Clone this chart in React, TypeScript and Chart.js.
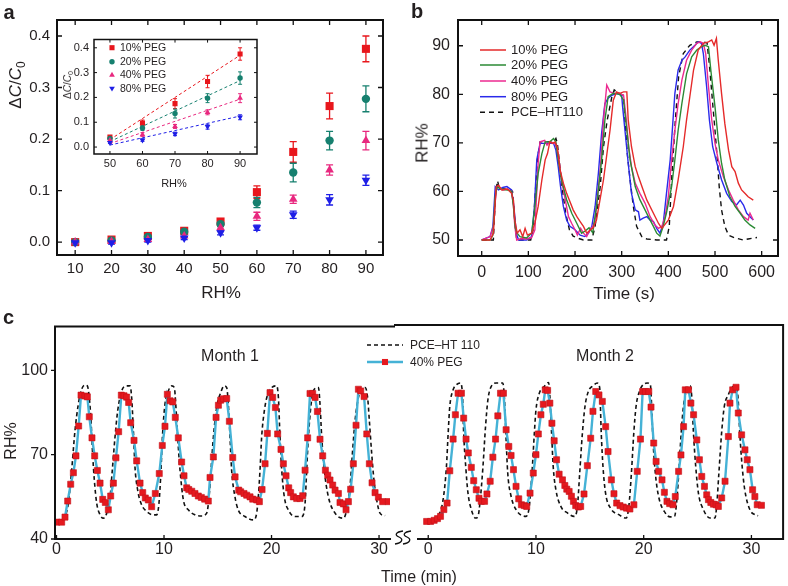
import React, { useEffect, useRef } from 'react';
import { Chart, registerables } from 'chart.js';

Chart.register(...registerables);

const FONT = '"Liberation Sans", Arial, Helvetica, sans-serif';
const INK = '#231f20';

// ---------------- Panel a ----------------
const rhLevels = [10, 20, 30, 40, 50, 60, 70, 80, 90];
const aTicksY = [0, 0.1, 0.2, 0.3, 0.4];
const peg10 = [0.0, 0.005, 0.012, 0.022, 0.04, 0.097, 0.175, 0.264, 0.375];
const peg10Err = [0.004, 0.003, 0.003, 0.004, 0.005, 0.012, 0.02, 0.025, 0.025];
const peg20 = [0.0, 0.003, 0.01, 0.02, 0.035, 0.077, 0.135, 0.197, 0.278];
const peg20Err = [0.003, 0.003, 0.003, 0.004, 0.005, 0.01, 0.018, 0.018, 0.025];
const peg40 = [0.0, 0.001, 0.005, 0.012, 0.028, 0.05, 0.083, 0.14, 0.197];
const peg40Err = [0.003, 0.003, 0.003, 0.003, 0.004, 0.008, 0.008, 0.01, 0.018];
const peg80 = [-0.001, -0.001, 0.003, 0.008, 0.018, 0.028, 0.053, 0.082, 0.12];
const peg80Err = [0.003, 0.003, 0.003, 0.003, 0.004, 0.005, 0.007, 0.01, 0.01];
const insetTicksX = [50, 60, 70, 80, 90];
const fitX = [50, 90];
const fit10 = [0.03, 0.37];
const fit20 = [0.022, 0.268];
const fit40 = [0.014, 0.193];
const fit80 = [0.008, 0.125];
const pegNames = ['10% PEG', '20% PEG', '40% PEG', '80% PEG'];

// ---------------- Panel b ----------------
const bTicksX = [0, 100, 200, 300, 400, 500, 600];
const bTicksY = [50, 60, 70, 80, 90];
const bTrace10: [number, number][] = [
  [0, 50], [18, 50], [25, 51.4], [31, 61], [36, 61.3], [43, 60.3], [55, 60.5], [64, 59.6], [68, 58.2], [71, 54.1],
  [76, 51.4], [82, 52.1], [88, 50.7], [93, 52.4], [98, 51], [107, 51.4], [114, 53.5], [121, 56.9], [129, 62.4], [136, 66.5],
  [141, 67.8], [146, 70.2], [152, 69.9], [157, 70.2], [162, 69.2], [168, 64.4], [175, 61.7], [182, 59.6], [189, 57.9], [196, 56.2],
  [204, 54.8], [211, 53.8], [218, 52.8], [225, 51.4], [232, 52], [239, 52.5], [246, 54.1], [253, 58], [261, 62.4], [268, 67.5],
  [275, 72.6], [282, 78.8], [289, 80.5], [296, 80.2], [304, 80.5], [311, 80.5], [314, 74.7], [321, 69.2], [329, 65.1], [336, 63],
  [346, 60.3], [354, 58.2], [368, 55.5], [379, 53.4], [386, 52.4], [400, 54.1], [411, 56.9], [421, 62.4], [432, 69.2], [439, 74.7],
  [446, 79.5], [454, 85], [464, 89.1], [475, 90.5], [486, 90.8], [493, 91.2], [498, 90.1], [503, 91.5], [507, 87], [514, 80.2],
  [521, 74], [529, 68.5], [536, 65.1], [543, 64.1], [550, 61.7], [557, 60.3], [564, 59.6], [571, 58.9], [582, 58.2],
];
const bTrace20: [number, number][] = [
  [0, 50], [18, 50], [24, 51], [29, 59], [33, 61], [40, 60.5], [55, 60.3], [64, 60], [68, 57], [72, 52.5],
  [76, 51.4], [82, 50.7], [96, 50.4], [107, 51.4], [114, 56.9], [121, 63.7], [129, 67.8], [136, 70.2], [146, 70.2], [154, 70.9],
  [159, 70.2], [164, 66.5], [171, 62.4], [182, 58.3], [193, 55.5], [204, 53.4], [214, 51.4], [221, 51.8], [230, 52.5], [238, 51.5],
  [246, 56.9], [257, 66.5], [264, 74.7], [271, 79.5], [282, 80.2], [296, 80], [304, 78.8], [311, 72.6], [318, 66.5], [329, 61],
  [339, 58.3], [350, 56.2], [361, 54.1], [368, 52.8], [375, 51.4], [382, 50.8], [389, 52.8], [396, 55.6], [407, 61], [414, 66.5],
  [421, 72.6], [429, 78.1], [439, 84.2], [450, 87.7], [461, 89.1], [471, 89.8], [479, 90.1], [486, 89.8], [491, 85], [500, 77.4],
  [507, 70.6], [514, 65.8], [521, 62.4], [532, 58.9], [543, 56.9], [554, 55.5], [564, 54.1], [575, 53.1], [586, 52.4],
];
const bTrace40: [number, number][] = [
  [0, 50], [18, 50.7], [25, 52.8], [31, 60.3], [36, 61], [45, 60.3], [55, 60.5], [64, 60], [68, 57], [71, 52.8],
  [75, 50], [85, 50.3], [96, 50.2], [107, 50.5], [114, 52.1], [121, 65.8], [125, 70.2], [135, 70.5], [140, 69.5], [146, 70.2],
  [157, 69.9], [164, 67.8], [171, 62.4], [179, 58.3], [186, 54.8], [193, 53.4], [200, 52.1], [205, 51], [212, 52.4], [218, 51.4],
  [225, 50.7], [232, 52.1], [238, 52.8], [243, 54.1], [254, 64.4], [261, 74.7], [268, 81.9], [275, 80.5], [284, 80.2], [296, 80.2],
  [304, 79.8], [310, 74.7], [315, 69.2], [321, 65.1], [329, 61.7], [339, 59.6], [350, 57.6], [361, 54.8], [371, 53.1], [379, 52.4],
  [386, 52.8], [393, 54.8], [400, 59], [407, 66.5], [414, 72.6], [421, 78.1], [429, 82.9], [439, 87], [450, 89.1], [461, 90.5],
  [468, 90.8], [475, 90.5], [480, 88.4], [486, 81.6], [493, 74.7], [500, 69.9], [507, 66.5], [518, 63], [529, 60.3], [539, 58.2],
  [550, 56.2], [561, 54.8], [571, 54.1], [575, 55.5], [582, 54.1],
];
const bTrace80: [number, number][] = [
  [0, 50], [18, 50.7], [24, 52.8], [29, 61], [36, 60.3], [45, 60.8], [54, 61], [64, 60.3], [69, 56.9], [74, 51.4],
  [79, 50], [96, 50], [107, 50.7], [113, 56.9], [118, 66.5], [125, 69.9], [139, 69.9], [154, 69.9], [159, 68.5], [164, 65.1],
  [169, 61], [175, 56.9], [182, 54.1], [189, 52.8], [200, 52.1], [211, 51], [221, 50.7], [229, 51.4], [236, 52.8], [243, 56.9],
  [250, 63.7], [257, 72], [264, 78.1], [271, 79.2], [279, 79.8], [289, 80.2], [300, 79.8], [302, 77.4], [307, 72.6], [314, 65.8],
  [321, 59.6], [329, 56.2], [336, 55.8], [339, 54.1], [346, 54.5], [354, 54.8], [361, 54.1], [368, 53.8], [375, 52.4], [382, 51.4],
  [389, 53.4], [396, 59.6], [404, 66.5], [409, 73.3], [414, 80.2], [421, 85], [429, 87], [436, 87.7], [446, 89.1], [457, 90.1],
  [464, 90.8], [471, 90.5], [475, 88.4], [482, 81.6], [488, 74.7], [495, 69.2], [504, 65.8], [514, 62.4], [525, 59.6], [536, 57.9],
  [546, 57.2], [554, 58.2], [561, 57.2], [568, 55.5], [575, 54.8], [582, 54.1],
];
const bTraceRef: [number, number][] = [
  [0, 50], [25, 50], [30, 60], [34, 62.2], [38, 60.5], [50, 60.5], [62, 60.3], [66, 60], [70, 55], [75, 50],
  [90, 50], [105, 50], [110, 52], [115, 60], [120, 67], [125, 70.2], [140, 70.2], [155, 70.3], [159, 70.9], [162, 70],
  [166, 66.5], [172, 61], [180, 55.5], [188, 52.1], [196, 50.8], [205, 50.4], [218, 50], [236, 50], [243, 52.8], [254, 61],
  [261, 69.2], [269, 74.7], [279, 79.5], [284, 80.9], [296, 80.1], [304, 79.8], [307, 74.7], [312, 67.8], [318, 62.4], [325, 56.9],
  [332, 52.8], [343, 50.7], [354, 50.2], [375, 50], [396, 50], [402, 52.8], [407, 62.4], [415, 74.7], [422, 83.6], [432, 88.4],
  [446, 90.1], [461, 90.8], [475, 90.8], [483, 90.6], [489, 85], [495, 78.1], [500, 72.6], [505, 66.5], [509, 61], [514, 56.2],
  [521, 52.8], [529, 51], [543, 50.4], [561, 50], [571, 50.2], [582, 50.4], [590, 50.5],
];

// ---------------- Panel c ----------------
const cTicksX = [0, 10, 20, 30];
const cTicksY = [40, 70, 100];
const month1Peg40: [number, number][] = [
  [0.02, 46.0], [0.48, 46.0], [0.79, 47.8], [1.04, 53.5], [1.32, 59.5], [1.57, 63.6], [1.81, 69.6], [2.06, 80.2], [2.28, 91.2], [2.65, 90.9],
  [2.87, 90.6], [3.05, 83.5], [3.3, 76.0], [3.55, 69.6], [3.8, 64.4], [4.05, 59.9], [4.3, 54.1], [4.54, 53.0], [4.82, 50.4], [5.04, 55.3],
  [5.29, 59.9], [5.53, 68.9], [5.78, 78.2], [6.03, 91.2], [6.28, 91.0], [6.52, 90.5], [6.71, 88.6], [6.9, 81.4], [7.21, 75.1], [7.46, 67.8],
  [7.77, 59.9], [8.02, 56.5], [8.26, 54.6], [8.54, 53.9], [8.85, 51.5], [9.19, 56.2], [9.56, 63.3], [9.84, 73.3], [10.09, 80.1], [10.31, 91.5],
  [10.56, 89.2], [10.81, 88.8], [11.05, 83.3], [11.33, 76.0], [11.64, 67.4], [11.86, 62.5], [12.11, 58.2], [12.3, 57.6], [12.58, 57.0], [12.88, 56.2],
  [13.19, 55.3], [13.47, 54.8], [13.78, 54.2], [14.12, 53.5], [14.28, 61.9], [14.59, 69.2], [14.84, 83.3], [15.06, 87.6], [15.27, 89.4], [15.52, 89.9],
  [15.83, 90.0], [16.08, 81.9], [16.39, 69.0], [16.61, 62.1], [16.95, 57.4], [17.13, 56.8], [17.44, 56.2], [17.69, 55.6], [18.0, 55.0], [18.25, 54.2],
  [18.62, 53.9], [18.87, 53.3], [19.12, 57.6], [19.4, 66.8], [19.61, 77.6], [19.86, 92.1], [20.11, 90.4], [20.36, 86.8], [20.57, 77.4], [20.88, 71.9],
  [21.1, 66.8], [21.35, 62.5], [21.6, 58.2], [21.78, 56.5], [22.03, 55.0], [22.34, 54.4], [22.65, 54.4], [22.9, 55.4], [23.12, 64.5], [23.36, 76.0],
  [23.58, 91.8], [23.83, 91.8], [24.05, 90.4], [24.27, 85.4], [24.51, 75.5], [24.76, 69.6], [25.01, 64.5], [25.23, 62.7], [25.44, 61.0], [25.69, 59.2],
  [25.91, 57.4], [26.22, 56.2], [26.37, 53.0], [26.68, 52.5], [26.93, 50.4], [27.15, 53.3], [27.36, 57.7], [27.61, 66.8], [27.86, 80.5], [28.08, 93.3],
  [28.3, 92.7], [28.61, 90.7], [28.86, 77.4], [29.1, 66.8], [29.35, 60.0], [29.63, 56.5], [29.94, 54.9], [30.34, 53.3], [30.87, 53.3],
];
const month1Ref: [number, number][] = [
  [0.6, 46.8], [0.79, 48.0], [1.1, 52.7], [1.41, 64.5], [1.72, 78.6], [2.03, 88.0], [2.34, 93.3], [2.65, 94.8], [2.87, 94.5], [3.05, 90.3],
  [3.21, 82.1], [3.36, 70.3], [3.52, 60.9], [3.74, 52.7], [4.05, 48.6], [4.36, 47.4], [4.67, 49.2], [4.98, 55.0], [5.19, 64.5], [5.44, 76.2],
  [5.69, 85.6], [6.06, 92.7], [6.53, 94.5], [6.84, 94.5], [6.99, 90.3], [7.15, 78.6], [7.3, 65.6], [7.55, 57.4], [7.86, 52.7], [8.39, 49.8],
  [9.01, 48.6], [9.32, 48.6], [9.53, 52.7], [9.72, 64.5], [9.85, 76.2], [10.09, 88.0], [10.4, 92.7], [10.71, 94.5], [10.96, 93.9], [11.09, 88.0],
  [11.27, 76.2], [11.49, 64.5], [11.8, 53.9], [12.26, 50.4], [12.88, 48.6], [13.5, 48.2], [13.97, 49.2], [14.19, 55.0], [14.37, 64.5], [14.59, 76.2],
  [14.9, 86.8], [15.3, 92.4], [15.6, 94.5], [15.83, 93.9], [15.98, 88.0], [16.14, 76.2], [16.29, 64.5], [16.6, 55.0], [16.91, 50.3], [17.53, 48.0],
  [18.31, 46.8], [18.62, 49.2], [18.77, 55.0], [18.93, 64.5], [19.08, 76.2], [19.33, 85.6], [19.64, 91.5], [20.02, 93.9], [20.48, 94.5], [20.64, 90.3],
  [20.79, 76.2], [20.95, 64.5], [21.19, 55.0], [21.57, 50.3], [22.19, 48.0], [22.81, 48.0], [23.12, 52.7], [23.27, 64.5], [23.43, 76.2], [23.68, 88.0],
  [23.98, 93.3], [24.36, 93.9], [24.51, 88.0], [24.67, 76.2], [24.91, 64.5], [25.29, 55.0], [25.91, 49.2], [26.68, 47.4], [26.99, 50.3], [27.3, 58.6],
  [27.52, 70.3], [27.77, 82.1], [28.08, 90.3], [28.39, 93.3], [28.7, 93.9], [28.94, 90.3], [29.1, 82.1], [29.32, 70.3], [29.53, 60.9], [29.78, 53.9],
  [30.09, 49.2], [30.56, 48.3],
];
const month2Peg40: [number, number][] = [
  [-0.15, 46.2], [0.22, 46.2], [0.55, 46.6], [0.86, 47.2], [1.14, 48.0], [1.45, 50.4], [1.75, 52.7], [2.0, 64.1], [2.31, 75.3], [2.52, 83.9],
  [2.77, 91.5], [3.08, 91.5], [3.29, 82.7], [3.51, 75.3], [3.72, 70.4], [4.0, 65.3], [4.22, 60.6], [4.46, 57.4], [4.71, 54.4], [4.92, 53.3],
  [5.23, 53.3], [5.45, 55.9], [5.75, 60.4], [6.0, 68.9], [6.25, 75.3], [6.46, 83.5], [6.71, 91.5], [6.98, 91.5], [7.23, 78.6], [7.48, 72.7],
  [7.69, 69.5], [7.91, 64.5], [8.15, 58.6], [8.4, 54.2], [8.65, 52.1], [8.92, 51.8], [9.14, 51.5], [9.45, 56.2], [9.75, 63.3], [10.0, 69.8],
  [10.22, 77.1], [10.46, 83.9], [10.68, 87.6], [10.86, 92.7], [11.08, 92.5], [11.29, 88.0], [11.48, 80.9], [11.69, 74.7], [11.91, 68.0], [12.15, 62.9],
  [12.46, 60.9], [12.68, 58.9], [12.86, 57.6], [13.08, 56.8], [13.29, 55.1], [13.48, 53.3], [13.69, 51.8], [13.94, 51.3], [14.15, 51.5], [14.46, 55.9],
  [14.77, 65.9], [15.08, 75.6], [15.29, 85.1], [15.55, 92.1], [15.85, 90.9], [16.16, 88.6], [16.47, 79.7], [16.69, 70.9], [17.0, 60.9], [17.24, 56.0],
  [17.49, 52.7], [17.8, 51.8], [18.1, 51.3], [18.41, 50.9], [18.72, 50.6], [19.09, 52.1], [19.4, 63.9], [19.7, 75.3], [19.9, 92.1], [20.16, 92.1],
  [20.47, 92.1], [20.68, 86.6], [20.93, 73.9], [21.15, 67.4], [21.39, 63.9], [21.7, 60.9], [21.92, 56.5], [22.16, 53.3], [22.41, 52.5], [22.72, 52.1],
  [22.93, 55.0], [23.24, 63.9], [23.46, 69.7], [23.7, 79.7], [23.86, 92.7], [24.16, 92.7], [24.38, 88.0], [24.63, 83.9], [24.93, 75.0], [25.17, 68.0],
  [25.39, 62.1], [25.64, 58.6], [25.85, 55.6], [26.01, 53.9], [26.23, 52.9], [26.47, 52.3], [26.72, 52.1], [26.93, 51.5], [27.24, 54.5], [27.55, 60.4],
  [27.86, 76.2], [28.01, 88.0], [28.26, 92.7], [28.57, 93.6], [28.78, 84.5], [29.09, 76.8], [29.4, 71.5], [29.61, 68.0], [29.86, 64.5], [30.11, 57.4],
  [30.32, 55.0], [30.54, 52.1], [30.93, 51.9],
];
const month2Ref: [number, number][] = [
  [0.5, 46.8], [0.77, 47.4], [1.38, 53.9], [1.69, 65.6], [1.85, 77.4], [2.0, 86.8], [2.31, 92.7], [2.62, 94.5], [2.98, 95.1], [3.17, 91.5],
  [3.29, 77.4], [3.48, 65.6], [3.69, 56.2], [4.0, 50.4], [4.4, 47.4], [4.62, 48.0], [4.83, 53.9], [5.08, 65.6], [5.32, 79.8], [5.54, 89.2],
  [5.85, 93.9], [6.31, 95.1], [6.92, 95.1], [7.08, 89.2], [7.23, 75.1], [7.38, 63.3], [7.69, 55.1], [8.15, 50.4], [9.08, 48.0], [9.38, 51.5],
  [9.63, 63.3], [9.85, 77.4], [10.0, 85.6], [10.31, 91.5], [10.77, 93.9], [11.17, 95.3], [11.29, 90.4], [11.45, 77.4], [11.6, 65.6], [11.85, 57.4],
  [12.31, 51.5], [12.92, 49.2], [13.54, 48.0], [13.85, 51.5], [14.06, 63.3], [14.31, 77.4], [14.55, 86.8], [14.86, 92.1], [15.29, 94.1], [15.69, 95.1],
  [15.91, 93.6], [16.06, 77.4], [16.22, 65.6], [16.46, 56.2], [16.92, 50.9], [17.69, 48.6], [18.37, 47.4], [18.62, 51.5], [18.86, 63.3], [19.08, 77.4],
  [19.29, 86.8], [19.6, 92.1], [20.31, 95.1], [20.62, 94.5], [20.71, 89.2], [20.86, 75.1], [21.08, 63.3], [21.38, 55.1], [22.0, 49.2], [22.46, 47.8],
  [22.86, 48.0], [23.08, 53.9], [23.29, 65.6], [23.48, 77.4], [23.69, 86.8], [24.0, 92.9], [24.31, 94.1], [24.46, 90.4], [24.62, 77.4], [24.83, 65.6],
  [25.08, 56.2], [25.54, 50.4], [26.15, 47.4], [26.62, 47.4], [26.77, 51.5], [26.98, 63.3], [27.23, 77.4], [27.48, 86.8], [27.85, 90.9], [28.15, 93.3],
  [28.46, 94.1], [28.62, 93.3], [28.77, 89.2], [28.92, 77.4], [29.14, 65.6], [29.38, 57.4], [29.85, 50.4], [30.31, 48.6], [30.62, 48.2],
];

// ---------------- colours ----------------
const C10 = '#e8161c';
const C20 = '#16806f';
const C40 = '#e8287f';
const C80 = '#1e1ee6';
const B10 = '#e52a2a';
const B20 = '#2b8a35';
const B40 = '#ec2a90';
const B80 = '#2a2aea';
const CYAN = '#45b2d6';
const SQUARE = '#e5191f';

// ---------------- helpers ----------------
function scaleOpts(o: any) {
  const s: any = {
    type: 'linear',
    min: o.min,
    max: o.max,
    display: o.display !== false,
    grid: { display: false, drawTicks: false },
    border: { display: false },
    ticks: {
      font: { family: FONT, size: o.size ?? 15 },
      color: INK,
      padding: o.pad ?? 4,
      autoSkip: false,
      maxRotation: 0,
      includeBounds: false,
      callback: (v: any) => (o.fmt ? o.fmt(Number(v)) : String(v)),
    },
  };
  if (o.ticks) {
    const tv: number[] = o.ticks;
    s.afterBuildTicks = (sc: any) => {
      sc.ticks = tv.map((v) => ({ value: v }));
    };
  }
  if (o.fit !== undefined) {
    const f = o.fit;
    const d = o.dim;
    s.afterFit = (sc: any) => {
      sc[d] = f;
    };
  }
  return s;
}

function framePlugin(o: any) {
  return {
    id: 'frame',
    afterDraw(chart: any) {
      const { ctx, chartArea: a } = chart;
      ctx.save();
      ctx.strokeStyle = '#111';
      ctx.lineWidth = o.lw;
      ctx.lineCap = 'square';
      const segs = o.segs
        ? o.segs(a, chart.width)
        : [
            [a.left, a.top, a.right, a.top],
            [a.right, a.top, a.right, a.bottom],
            [a.right, a.bottom, a.left, a.bottom],
            [a.left, a.bottom, a.left, a.top],
          ];
      ctx.beginPath();
      segs.forEach((s: number[]) => {
        ctx.moveTo(s[0], s[1]);
        ctx.lineTo(s[2], s[3]);
      });
      ctx.stroke();
      ctx.lineWidth = o.tlw ?? 1.3;
      ctx.lineCap = 'butt';
      ctx.beginPath();
      const L = o.len;
      const xs = chart.scales.x;
      const ys = chart.scales.y;
      xs.ticks.forEach((t: any) => {
        const px = xs.getPixelForValue(t.value);
        if (o.xb) {
          ctx.moveTo(px, a.bottom);
          ctx.lineTo(px, a.bottom - L);
        }
        if (o.xt) {
          ctx.moveTo(px, a.top);
          ctx.lineTo(px, a.top + L);
        }
      });
      if (o.yl || o.yr) {
        ys.ticks.forEach((t: any) => {
          const py = ys.getPixelForValue(t.value);
          if (o.yl) {
            ctx.moveTo(a.left, py);
            ctx.lineTo(o.yOut ? a.left - L : a.left + L, py);
          }
          if (o.yr) {
            ctx.moveTo(a.right, py);
            ctx.lineTo(a.right - L, py);
          }
        });
      }
      ctx.stroke();
      ctx.restore();
    },
  };
}

function errorBarPlugin(cap: number, lw: number) {
  return {
    id: 'errbars',
    beforeDatasetsDraw(chart: any) {
      const { ctx } = chart;
      const xs = chart.scales.x;
      const ys = chart.scales.y;
      ctx.save();
      ctx.lineWidth = lw;
      chart.data.datasets.forEach((ds: any) => {
        if (!ds.errs) return;
        ctx.strokeStyle = ds.borderColor;
        ctx.beginPath();
        ds.data.forEach((p: any, j: number) => {
          const e = ds.errs[j];
          const x = xs.getPixelForValue(p.x);
          const y1 = ys.getPixelForValue(p.y + e);
          const y2 = ys.getPixelForValue(p.y - e);
          ctx.moveTo(x, y1);
          ctx.lineTo(x, y2);
          ctx.moveTo(x - cap, y1);
          ctx.lineTo(x + cap, y1);
          ctx.moveTo(x - cap, y2);
          ctx.lineTo(x + cap, y2);
        });
        ctx.stroke();
      });
      ctx.restore();
    },
  };
}

function decoPlugin(draw: (ctx: CanvasRenderingContext2D, chart: any) => void) {
  return {
    id: 'deco',
    afterDraw(chart: any) {
      chart.ctx.save();
      draw(chart.ctx, chart);
      chart.ctx.restore();
    },
  };
}

function marker(ctx: CanvasRenderingContext2D, style: string, x: number, y: number, r: number, color: string) {
  ctx.fillStyle = color;
  ctx.beginPath();
  if (style === 'rect') {
    const s = r * Math.SQRT1_2;
    ctx.rect(x - s, y - s, 2 * s, 2 * s);
  } else if (style === 'circle') {
    ctx.arc(x, y, r, 0, Math.PI * 2);
  } else if (style === 'up') {
    ctx.moveTo(x, y - r);
    ctx.lineTo(x + r * 0.866, y + r / 2);
    ctx.lineTo(x - r * 0.866, y + r / 2);
    ctx.closePath();
  } else {
    ctx.moveTo(x, y + r);
    ctx.lineTo(x + r * 0.866, y - r / 2);
    ctx.lineTo(x - r * 0.866, y - r / 2);
    ctx.closePath();
  }
  ctx.fill();
}

function baseOptions(padding: any, scales: any) {
  return {
    responsive: false,
    animation: false,
    events: [],
    layout: { padding },
    plugins: { legend: { display: false }, tooltip: { enabled: false } },
    scales,
  };
}

const pts = (xs: number[], ys: number[]) => xs.map((x, i) => ({ x, y: ys[i] }));
const pairs = (arr: [number, number][]) => arr.map(([x, y]) => ({ x, y }));

const seriesA = [
  { name: pegNames[0], vals: peg10, errs: peg10Err, fit: fit10, color: C10, style: 'rect', rot: 0, r: 5.7, ri: 3.6, order: 3, leg: 'rect' },
  { name: pegNames[1], vals: peg20, errs: peg20Err, fit: fit20, color: C20, style: 'circle', rot: 0, r: 4.2, ri: 2.7, order: 2, leg: 'circle' },
  { name: pegNames[2], vals: peg40, errs: peg40Err, fit: fit40, color: C40, style: 'triangle', rot: 0, r: 5, ri: 3.3, order: 1, leg: 'up' },
  { name: pegNames[3], vals: peg80, errs: peg80Err, fit: fit80, color: C80, style: 'triangle', rot: 180, r: 5, ri: 3.3, order: 0, leg: 'down' },
];

// ---------------- chart builders ----------------
function buildMainA() {
  return {
    type: 'line',
    data: {
      datasets: seriesA.map((s) => ({
        data: pts(rhLevels, s.vals),
        errs: s.errs,
        showLine: false,
        borderColor: s.color,
        backgroundColor: s.color,
        pointStyle: s.style,
        pointRotation: s.rot,
        pointRadius: s.r,
        pointBorderWidth: 0,
        pointBackgroundColor: s.color,
        order: s.order,
      })),
    },
    options: baseOptions(
      { left: 0, top: 20, right: 12, bottom: 0 },
      {
        x: scaleOpts({ min: 5, max: 94.7, ticks: rhLevels, size: 15, pad: 5, fit: 50, dim: 'height' }),
        y: scaleOpts({ min: -0.025, max: 0.431, ticks: aTicksY, size: 15, pad: 7, fit: 57, dim: 'width', fmt: (v: number) => v.toFixed(1) }),
      }
    ),
    plugins: [errorBarPlugin(3.5, 1.3), framePlugin({ lw: 2, len: 5, xb: true, xt: true, yl: true, yr: true })],
  };
}

function buildInset() {
  const ix = rhLevels.slice(4);
  const fitSets = seriesA.map((s) => ({
    data: pts(fitX, s.fit),
    borderColor: s.color,
    borderWidth: 1,
    borderDash: [3, 2.5],
    pointRadius: 0,
    order: 5,
  }));
  const ptSets = seriesA.map((s) => ({
    data: pts(ix, s.vals.slice(4)),
    errs: s.errs.slice(4),
    showLine: false,
    borderColor: s.color,
    pointStyle: s.style,
    pointRotation: s.rot,
    pointRadius: s.ri,
    pointBorderWidth: 0,
    pointBackgroundColor: s.color,
    order: s.order,
  }));
  const ox = 64;
  const oy = 28;
  return {
    type: 'line',
    data: { datasets: [...fitSets, ...ptSets] },
    options: baseOptions(
      { left: 0, top: 5, right: 7, bottom: 0 },
      {
        x: scaleOpts({ min: 45.1, max: 95.2, ticks: insetTicksX, size: 11, pad: 3, fit: 44, dim: 'height' }),
        y: scaleOpts({ min: -0.028, max: 0.433, ticks: aTicksY, size: 11, pad: 5, fit: 30, dim: 'width', fmt: (v: number) => v.toFixed(1) }),
      }
    ),
    plugins: [
      errorBarPlugin(2, 1),
      framePlugin({ lw: 1.5, len: 3, tlw: 1, xb: true, xt: true, yl: true, yr: true }),
      decoPlugin((ctx) => {
        const rows = [47.7, 61.7, 75, 88.3];
        ctx.font = `10.5px ${FONT}`;
        ctx.textBaseline = 'middle';
        seriesA.forEach((s, i) => {
          marker(ctx, s.leg, 112 - ox, rows[i] - oy, s.ri, s.color);
          ctx.fillStyle = INK;
          ctx.fillText(s.name, 120 - ox, rows[i] - oy + 0.5);
        });
      }),
    ],
  };
}

const seriesB = [
  { name: '10% PEG', data: bTrace10, color: B10, dash: [] as number[] },
  { name: '20% PEG', data: bTrace20, color: B20, dash: [] as number[] },
  { name: '40% PEG', data: bTrace40, color: B40, dash: [] as number[] },
  { name: '80% PEG', data: bTrace80, color: B80, dash: [] as number[] },
  { name: 'PCE\u2013HT110', data: bTraceRef, color: '#111', dash: [5, 4] },
];

function buildB() {
  const ox = 395;
  return {
    type: 'line',
    data: {
      datasets: seriesB.map((s) => ({
        data: pairs(s.data),
        borderColor: s.color,
        borderWidth: 1.4,
        borderDash: s.dash,
        pointRadius: 0,
        tension: 0,
      })),
    },
    options: baseOptions(
      { left: 0, top: 20, right: 10, bottom: 0 },
      {
        x: scaleOpts({ min: -50.8, max: 635, ticks: bTicksX, size: 16, pad: 7, fit: 49, dim: 'height' }),
        y: scaleOpts({ min: 46.7, max: 95.3, ticks: bTicksY, size: 16, pad: 8, fit: 63, dim: 'width' }),
      }
    ),
    plugins: [
      framePlugin({ lw: 2, len: 5, xb: true, xt: true, yl: true, yr: true }),
      decoPlugin((ctx) => {
        const rows = [50, 65, 81, 96.7, 112.3];
        ctx.font = `13px ${FONT}`;
        ctx.textBaseline = 'middle';
        seriesB.forEach((s, i) => {
          ctx.strokeStyle = s.color;
          ctx.lineWidth = 1.5;
          ctx.setLineDash(s.dash);
          ctx.beginPath();
          ctx.moveTo(480 - ox, rows[i] - 0);
          ctx.lineTo(506 - ox, rows[i]);
          ctx.stroke();
          ctx.setLineDash([]);
          ctx.fillStyle = INK;
          ctx.fillText(s.name, 511 - ox, rows[i] + 0.5);
        });
      }),
    ],
  };
}

function cDatasets(peg: [number, number][], ref: [number, number][]) {
  return [
    {
      data: pairs(peg),
      borderColor: CYAN,
      borderWidth: 2.4,
      pointStyle: 'rect',
      pointRadius: 4.3,
      pointBackgroundColor: SQUARE,
      pointBorderColor: '#c4121a',
      pointBorderWidth: 0.6,
      tension: 0,
      order: 0,
    },
    {
      data: pairs(ref),
      borderColor: '#111',
      borderWidth: 1.6,
      borderDash: [4, 3],
      pointRadius: 0,
      cubicInterpolationMode: 'monotone',
      order: 1,
    },
  ];
}

function buildCLeft() {
  return {
    type: 'line',
    data: { datasets: cDatasets(month1Peg40, month1Ref) },
    options: baseOptions(
      { left: 0, top: 15, right: 5, bottom: 0 },
      {
        x: scaleOpts({ min: -0.14, max: 31.02, ticks: cTicksX, size: 16, pad: 1, fit: 47, dim: 'height' }),
        y: scaleOpts({ min: 40, max: 115.6, ticks: cTicksY, size: 16, pad: 7, fit: 55, dim: 'width' }),
      }
    ),
    plugins: [
      framePlugin({
        lw: 2,
        len: 4,
        xb: true,
        yl: true,
        yOut: true,
        segs: (a: any, w: number) => [
          [a.left, a.top, w, a.top],
          [a.left, a.top, a.left, a.bottom],
          [a.left, a.bottom, a.right, a.bottom],
        ],
      }),
    ],
  };
}

function buildCRight() {
  const ox = 360;
  const oy = 310;
  return {
    type: 'line',
    data: { datasets: cDatasets(month2Peg40, month2Ref) },
    options: baseOptions(
      { left: 58, top: 15, right: 3, bottom: 0 },
      {
        x: scaleOpts({ min: -0.95, max: 32.94, ticks: cTicksX, size: 16, pad: 1, fit: 47, dim: 'height' }),
        y: scaleOpts({ min: 40, max: 115.6, ticks: cTicksY, display: false }),
      }
    ),
    plugins: [
      framePlugin({
        lw: 2,
        len: 4,
        xb: true,
        segs: (a: any) => [
          [395 - ox, a.top, a.right, a.top],
          [a.right, a.top, a.right, a.bottom],
          [a.left, a.bottom, a.right, a.bottom],
        ],
      }),
      decoPlugin((ctx) => {
        // legend
        ctx.font = `12px ${FONT}`;
        ctx.textBaseline = 'middle';
        ctx.strokeStyle = '#111';
        ctx.lineWidth = 1.6;
        ctx.setLineDash([4, 3]);
        ctx.beginPath();
        ctx.moveTo(367 - ox, 345 - oy);
        ctx.lineTo(403 - ox, 345 - oy);
        ctx.stroke();
        ctx.setLineDash([]);
        ctx.strokeStyle = CYAN;
        ctx.lineWidth = 2.4;
        ctx.beginPath();
        ctx.moveTo(367 - ox, 362 - oy);
        ctx.lineTo(403 - ox, 362 - oy);
        ctx.stroke();
        marker(ctx, 'rect', 385 - ox, 362 - oy, 4.3, SQUARE);
        ctx.fillStyle = INK;
        ctx.fillText('PCE\u2013HT 110', 410 - ox, 345.5 - oy);
        ctx.fillText('40% PEG', 410 - ox, 362.5 - oy);
        // axis break mark
        ctx.strokeStyle = '#111';
        ctx.lineWidth = 1.3;
        [394, 402].forEach((bx) => {
          const x = bx - ox;
          ctx.beginPath();
          ctx.moveTo(x + 9, 531 - oy);
          ctx.bezierCurveTo(x + 2, 532 - oy, x, 535 - oy, x + 5, 537 - oy);
          ctx.bezierCurveTo(x + 10, 539 - oy, x + 8, 543 - oy, x + 1, 544 - oy);
          ctx.stroke();
        });
      }),
    ],
  };
}

// ---------------- components ----------------
function ChartCanvas({ x, y, w, h, build }: { x: number; y: number; w: number; h: number; build: () => any }) {
  const ref = useRef<HTMLCanvasElement | null>(null);
  useEffect(() => {
    if (!ref.current) return;
    const chart = new Chart(ref.current, build());
    return () => chart.destroy();
  }, []);
  return (
    <canvas
      ref={ref}
      width={w}
      height={h}
      style={{ position: 'absolute', left: x, top: y, width: w, height: h }}
    />
  );
}

function Label({ x, y, size, rot, bold, children }: { x: number; y: number; size: number; rot?: number; bold?: boolean; children: any }) {
  return (
    <div
      style={{
        position: 'absolute',
        left: x,
        top: y,
        transform: `translate(-50%, -50%)${rot ? ` rotate(${rot}deg)` : ''}`,
        fontFamily: FONT,
        fontSize: size,
        fontWeight: bold ? 700 : 400,
        color: INK,
        whiteSpace: 'nowrap',
        lineHeight: 1,
      }}
    >
      {children}
    </div>
  );
}

function DeltaC() {
  return (
    <span>
      Δ<i>C</i>/<i>C</i>
      <span style={{ fontSize: '0.7em', position: 'relative', top: '0.3em' }}>0</span>
    </span>
  );
}

export default function App() {
  return (
    <div style={{ position: 'absolute', left: 0, top: 0, width: 788, height: 586, background: '#fff', overflow: 'hidden' }}>
      <ChartCanvas x={0} y={0} w={395} h={305} build={buildMainA} />
      <ChartCanvas x={64} y={28} w={200} h={170} build={buildInset} />
      <ChartCanvas x={395} y={0} w={393} h={305} build={buildB} />
      <ChartCanvas x={0} y={310} w={395} h={276} build={buildCLeft} />
      <ChartCanvas x={360} y={310} w={428} h={276} build={buildCRight} />

      <Label x={9} y={12} size={20} bold>a</Label>
      <Label x={417} y={11} size={20} bold>b</Label>
      <Label x={8.5} y={317} size={20} bold>c</Label>

      <Label x={15} y={85} size={17} rot={-90}><DeltaC /></Label>
      <Label x={221} y={292} size={17}>RH%</Label>
      <Label x={68} y={85} size={10} rot={-90}><DeltaC /></Label>
      <Label x={174} y={183} size={11}>RH%</Label>

      <Label x={422} y={143} size={17} rot={-90}>RH%</Label>
      <Label x={624} y={293} size={17}>Time (s)</Label>

      <Label x={11} y={441} size={16} rot={-90}>RH%</Label>
      <Label x={419} y={577} size={16}>Time (min)</Label>
      <Label x={230} y={356} size={16}>Month 1</Label>
      <Label x={605} y={356} size={16}>Month 2</Label>
    </div>
  );
}
